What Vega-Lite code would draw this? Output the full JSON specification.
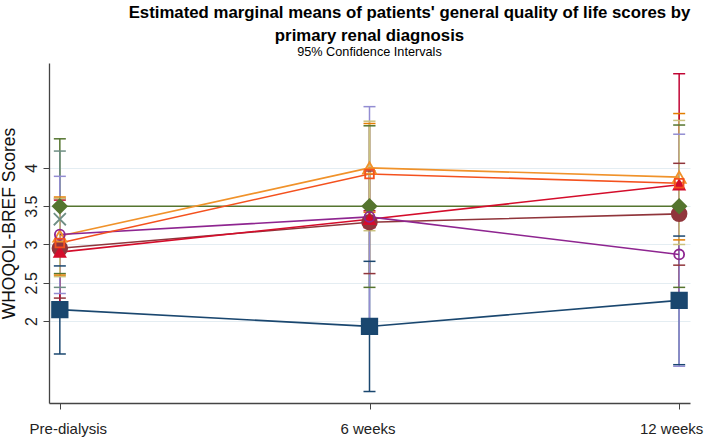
{
  "$schema": "https://vega.github.io/schema/vega-lite/v6.json",
  "background": "white",
  "padding": {"left": 0, "top": 4, "right": 5, "bottom": 4},
  "title": {
    "text": "Estimated marginal means of patients' general quality of life scores by",
    "font": "Liberation Sans",
    "fontSize": 16.8,
    "fontWeight": "bold",
    "color": "#000000",
    "anchor": "middle",
    "frame": "group",
    "dx": 40,
    "offset": 6
  },
  "config": {
    "font": "Liberation Sans",
    "view": {"stroke": null}
  },
  "vconcat": [
    {
      "width": 641,
      "height": 340,
      "title": {
        "text": "primary renal diagnosis",
        "subtitle": "95% Confidence Intervals",
        "font": "Liberation Sans",
        "fontSize": 16.8,
        "fontWeight": "bold",
        "color": "#000000",
        "subtitleFont": "Liberation Sans",
        "subtitleFontSize": 12.7,
        "subtitleColor": "#000000",
        "subtitlePadding": 2,
        "anchor": "middle",
        "frame": "group",
        "offset": 4
      },
      "data": {
        "values": [
          {"series": "A", "time": "Pre-dialysis", "mean": 2.15, "lo": 1.57, "hi": 2.72},
          {"series": "A", "time": "6 weeks", "mean": 1.93, "lo": 1.08, "hi": 2.78},
          {"series": "A", "time": "12 weeks", "mean": 2.27, "lo": 1.43, "hi": 3.11},
          {"series": "B", "time": "Pre-dialysis", "mean": 2.95, "lo": 2.30, "hi": 3.60},
          {"series": "B", "time": "6 weeks", "mean": 3.29, "lo": 2.62, "hi": 3.96},
          {"series": "B", "time": "12 weeks", "mean": 3.40, "lo": 2.73, "hi": 4.06},
          {"series": "C", "time": "Pre-dialysis", "mean": 3.50, "lo": 2.62, "hi": 4.38},
          {"series": "C", "time": "6 weeks", "mean": 3.50, "lo": 2.44, "hi": 4.55},
          {"series": "C", "time": "12 weeks", "mean": 3.50, "lo": 2.44, "hi": 4.56},
          {"series": "D", "time": "Pre-dialysis", "mean": 3.11, "lo": 2.60, "hi": 3.62},
          {"series": "D", "time": "6 weeks", "mean": 4.00, "lo": 3.42, "hi": 4.58},
          {"series": "D", "time": "12 weeks", "mean": 3.88, "lo": 3.06, "hi": 4.71},
          {"series": "E", "time": "Pre-dialysis", "mean": 3.33, "lo": 2.44, "hi": 4.22},
          {"series": "F", "time": "Pre-dialysis", "mean": 2.90, "lo": 2.22, "hi": 3.58},
          {"series": "F", "time": "6 weeks", "mean": 3.33, "lo": 3.22, "hi": 3.44},
          {"series": "F", "time": "12 weeks", "mean": 3.78, "lo": 2.33, "hi": 5.23},
          {"series": "G", "time": "Pre-dialysis", "mean": 3.13, "lo": 2.36, "hi": 3.89},
          {"series": "G", "time": "6 weeks", "mean": 3.36, "lo": 1.92, "hi": 4.80},
          {"series": "G", "time": "12 weeks", "mean": 2.87, "lo": 1.41, "hi": 4.44},
          {"series": "H", "time": "Pre-dialysis", "mean": 3.02, "lo": 2.58, "hi": 3.60},
          {"series": "H", "time": "6 weeks", "mean": 3.92, "lo": 3.18, "hi": 4.61},
          {"series": "H", "time": "12 weeks", "mean": 3.80, "lo": 3.00, "hi": 4.62}
        ]
      },
      "encoding": {
        "x": {
          "field": "time",
          "type": "nominal",
          "sort": ["Pre-dialysis", "6 weeks", "12 weeks"],
          "scale": {"type": "point", "padding": 0.035},
          "axis": {
            "title": null,
            "labelAngle": 0,
            "labelFontSize": 15,
            "labelColor": "#222222",
            "labelPadding": 12,
            "labelOffset": {
              "condition": [
                {"test": "datum.value === 'Pre-dialysis'", "value": 8},
                {"test": "datum.value === '12 weeks'", "value": -8}
              ],
              "value": -2
            },
            "tickSize": 6,
            "tickColor": "#444444",
            "domainColor": "#444444",
            "domainWidth": 1.3,
            "grid": false
          }
        }
      },
      "layer": [
        {
          "mark": {"type": "rule", "strokeWidth": 1.5},
          "encoding": {
            "y": {
              "field": "lo",
              "type": "quantitative",
              "scale": {"domain": [0.93, 5.37], "nice": false, "zero": false},
              "axis": {
                "title": "WHOQOL-BREF Scores",
                "titleFontSize": 17.5,
                "titleFontWeight": "normal",
                "titleColor": "#111111",
                "titlePadding": 5,
                "titleY": 160,
                "values": [2, 2.5, 3, 3.5, 4],
                "format": "~g",
                "labelAngle": -90,
                "labelAlign": "center",
                "labelBaseline": "bottom",
                "labelFontSize": 16,
                "labelColor": "#222222",
                "labelPadding": 4,
                "tickSize": 6,
                "tickColor": "#444444",
                "domainColor": "#444444",
                "domainWidth": 1.3,
                "grid": true,
                "gridColor": "#e4edf2",
                "gridWidth": 1.2
              }
            },
            "y2": {"field": "hi"},
            "stroke": {
              "field": "series",
              "type": "nominal",
              "scale": {
                "domain": ["A", "B", "C", "D", "E", "F", "G", "H"],
                "range": ["#1a476f", "#90353b", "#55752f", "#e37e00", "#6e8e84", "#c10534", "#938dd2", "#cac27e"]
              },
              "legend": null
            }
          }
        },
        {
          "mark": {"type": "rule", "strokeWidth": 1.5, "xOffset": -6, "x2Offset": 6},
          "encoding": {
            "x2": {"field": "time"},
            "y": {"field": "hi", "type": "quantitative"},
            "stroke": {"field": "series", "type": "nominal", "legend": null}
          }
        },
        {
          "mark": {"type": "rule", "strokeWidth": 1.5, "xOffset": -6, "x2Offset": 6},
          "encoding": {
            "x2": {"field": "time"},
            "y": {"field": "lo", "type": "quantitative"},
            "stroke": {"field": "series", "type": "nominal", "legend": null}
          }
        },
        {
          "mark": {"type": "line", "strokeWidth": 1.6},
          "encoding": {
            "y": {"field": "mean", "type": "quantitative"},
            "color": {
              "field": "series",
              "type": "nominal",
              "scale": {
                "domain": ["A", "B", "C", "D", "E", "F", "G", "H"],
                "range": ["#1a476f", "#90353b", "#55752f", "#f0922a", "#6e8e84", "#d40d2b", "#8e2590", "#f4511e"]
              },
              "legend": null
            }
          }
        },
        {
          "mark": {"type": "point", "filled": false, "strokeWidth": 1.8, "opacity": 1},
          "encoding": {
            "y": {"field": "mean", "type": "quantitative"},
            "color": {"field": "series", "type": "nominal", "legend": null},
            "fill": {
              "field": "series",
              "type": "nominal",
              "scale": {
                "domain": ["A", "B", "C", "D", "E", "F", "G", "H"],
                "range": ["#1a476f", "#90353b", "#55752f", "transparent", "transparent", "#d40d2b", "transparent", "transparent"]
              },
              "legend": null
            },
            "shape": {
              "field": "series",
              "type": "nominal",
              "scale": {
                "domain": ["A", "B", "C", "D", "E", "F", "G", "H"],
                "range": ["square", "circle", "diamond", "triangle-up", "M-1,-1L1,1M-1,1L1,-1", "triangle-up", "circle", "square"]
              },
              "legend": null
            },
            "size": {
              "field": "series",
              "type": "nominal",
              "scale": {
                "domain": ["A", "B", "C", "D", "E", "F", "G", "H"],
                "range": [240, 75, 190, 120, 60, 220, 60, 64]
              },
              "legend": null
            }
          }
        }
      ],
      "resolve": {"scale": {"stroke": "shared"}}
    }
  ]
}
